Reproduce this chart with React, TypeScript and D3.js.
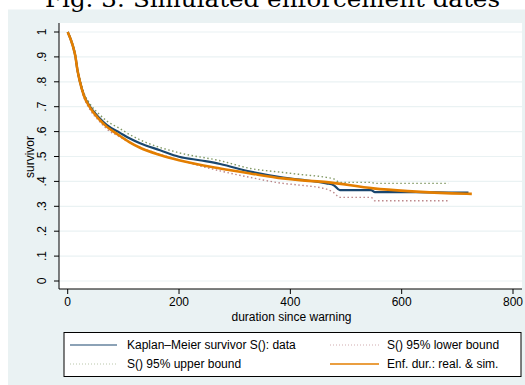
import * as d3 from "d3";

const kmTime = [0, 9, 14, 17, 22, 29, 40, 57, 70, 94, 110, 130, 166, 200, 240, 274, 328, 387, 417, 465, 478, 489, 545, 552, 624, 700, 720];
const kmSurv = [1, 0.946, 0.9, 0.854, 0.8, 0.747, 0.7, 0.655, 0.627, 0.595, 0.574, 0.553, 0.525, 0.499, 0.484, 0.47, 0.439, 0.415, 0.407, 0.392, 0.385, 0.365, 0.365, 0.357, 0.357, 0.355, 0.355];

const boundTime = [0, 9, 14, 17, 22, 29, 40, 57, 70, 94, 110, 130, 200, 274, 328, 387, 417, 465, 478, 489, 545, 552, 684];
const upperSurv = [1, 0.952, 0.906, 0.862, 0.81, 0.757, 0.712, 0.669, 0.643, 0.612, 0.59, 0.567, 0.515, 0.483, 0.452, 0.436, 0.428, 0.416, 0.41, 0.396, 0.396, 0.392, 0.392];
const lowerSurv = [1, 0.94, 0.893, 0.845, 0.79, 0.737, 0.688, 0.641, 0.611, 0.578, 0.557, 0.537, 0.486, 0.442, 0.416, 0.392, 0.385, 0.369, 0.355, 0.336, 0.336, 0.322, 0.322];

const enfTime = [0, 9, 14, 17, 22, 29, 40, 57, 70, 88, 110, 130, 166, 200, 274, 328, 387, 417, 465, 549, 611, 658, 690, 726];
const enfSurv = [1, 0.946, 0.9, 0.854, 0.8, 0.745, 0.697, 0.648, 0.62, 0.592, 0.559, 0.535, 0.506, 0.485, 0.452, 0.432, 0.412, 0.405, 0.397, 0.372, 0.361, 0.355, 0.352, 0.35];

const xTicks = [0, 200, 400, 600, 800];
const yTicks = [0, 0.1, 0.2, 0.3, 0.4, 0.5, 0.6, 0.7, 0.8, 0.9, 1];
const yTickLabels = ["0", ".1", ".2", ".3", ".4", ".5", ".6", ".7", ".8", ".9", "1"];

const NAVY = "#1a476f";
const MAROON = "#90353b";
const GREEN = "#55752f";
const ORANGE = "#e37e00";
const BG = "#eaf2f3";
const FONT = "'Liberation Sans', Arial, sans-serif";

export default function App() {
  const x = d3.scaleLinear().domain([0, 800]).range([67.7, 513]);
  const y = d3.scaleLinear().domain([0, 1]).range([281, 32]);

  const line = d3
    .line<[number, number]>()
    .x((d) => x(d[0]))
    .y((d) => y(d[1]))
    .curve(d3.curveMonotoneX);

  const zip = (t: number[], s: number[]) => t.map((v, i) => [v, s[i]] as [number, number]);

  const plot = { left: 59, right: 522, top: 23, bottom: 289 };

  return (
    <svg
      width={525}
      height={385}
      style={{ position: "absolute", left: 0, top: 0, overflow: "visible" }}
    >
      <rect x={8} y={9.5} width={517} height={376} fill={BG} />
      {/* title sits above the graph region, partly off the page as in the source */}
      <text
        x={45}
        y={7}
        textLength={455}
        lengthAdjust="spacingAndGlyphs"
        fontFamily="'DejaVu Serif', serif"
        fontSize={22}
        fill="#000"
      >
        Fig. 3: Simulated enforcement dates
      </text>

      <rect
        x={plot.left}
        y={plot.top}
        width={plot.right - plot.left}
        height={plot.bottom - plot.top}
        fill="#fff"
      />

      {/* grid */}
      {yTicks.map((t) => (
        <line key={"g" + t} x1={plot.left} x2={plot.right} y1={y(t)} y2={y(t)} stroke={BG} strokeWidth={1.2} />
      ))}

      {/* series */}
      <path d={line(zip(boundTime, upperSurv)) || ""} fill="none" stroke={GREEN} strokeWidth={1.4} strokeDasharray="1.5,2.5" opacity={0.75} />
      <path d={line(zip(boundTime, lowerSurv)) || ""} fill="none" stroke={MAROON} strokeWidth={1.4} strokeDasharray="1.5,2.5" opacity={0.6} />
      <path d={line(zip(kmTime, kmSurv)) || ""} fill="none" stroke={NAVY} strokeWidth={2.2} />
      <path d={line(zip(enfTime, enfSurv)) || ""} fill="none" stroke={ORANGE} strokeWidth={2.6} />

      {/* axes */}
      <line x1={plot.left} x2={plot.left} y1={plot.top} y2={plot.bottom} stroke="#000" strokeWidth={1} />
      <line x1={plot.left} x2={plot.right} y1={plot.bottom} y2={plot.bottom} stroke="#000" strokeWidth={1} />
      {yTicks.map((t, i) => (
        <g key={"y" + t}>
          <line x1={plot.left - 5} x2={plot.left} y1={y(t)} y2={y(t)} stroke="#000" />
          <text
            transform={`translate(46,${y(t)}) rotate(-90)`}
            textAnchor="middle"
            fontFamily={FONT}
            fontSize={12}
          >
            {yTickLabels[i]}
          </text>
        </g>
      ))}
      {xTicks.map((t) => (
        <g key={"x" + t}>
          <line x1={x(t)} x2={x(t)} y1={plot.bottom} y2={plot.bottom + 5} stroke="#000" />
          <text x={x(t)} y={306} textAnchor="middle" fontFamily={FONT} fontSize={12}>
            {t}
          </text>
        </g>
      ))}
      <text x={291.5} y={321} textAnchor="middle" fontFamily={FONT} fontSize={12}>
        duration since warning
      </text>
      <text
        transform={`translate(34,157) rotate(-90)`}
        textAnchor="middle"
        fontFamily={FONT}
        fontSize={12}
      >
        survivor
      </text>

      {/* legend */}
      <rect x={64} y={332.5} width={457} height={44} fill="#fff" stroke="#000" strokeWidth={1} />
      <line x1={70} x2={117} y1={345} y2={345} stroke={NAVY} strokeWidth={1.2} />
      <text x={127} y={349} fontFamily={FONT} fontSize={12}>Kaplan–Meier survivor S(): data</text>
      <line x1={330} x2={379} y1={345} y2={345} stroke={MAROON} strokeWidth={1} strokeDasharray="1,2" opacity={0.4} />
      <text x={387} y={349} fontFamily={FONT} fontSize={12}>S() 95% lower bound</text>
      <line x1={70} x2={117} y1={364} y2={364} stroke={GREEN} strokeWidth={1} strokeDasharray="1,2" opacity={0.4} />
      <text x={127} y={368} fontFamily={FONT} fontSize={12}>S() 95% upper bound</text>
      <line x1={330} x2={379} y1={364} y2={364} stroke={ORANGE} strokeWidth={1.5} />
      <text x={387} y={368} fontFamily={FONT} fontSize={12}>Enf. dur.: real. &amp; sim.</text>
    </svg>
  );
}
